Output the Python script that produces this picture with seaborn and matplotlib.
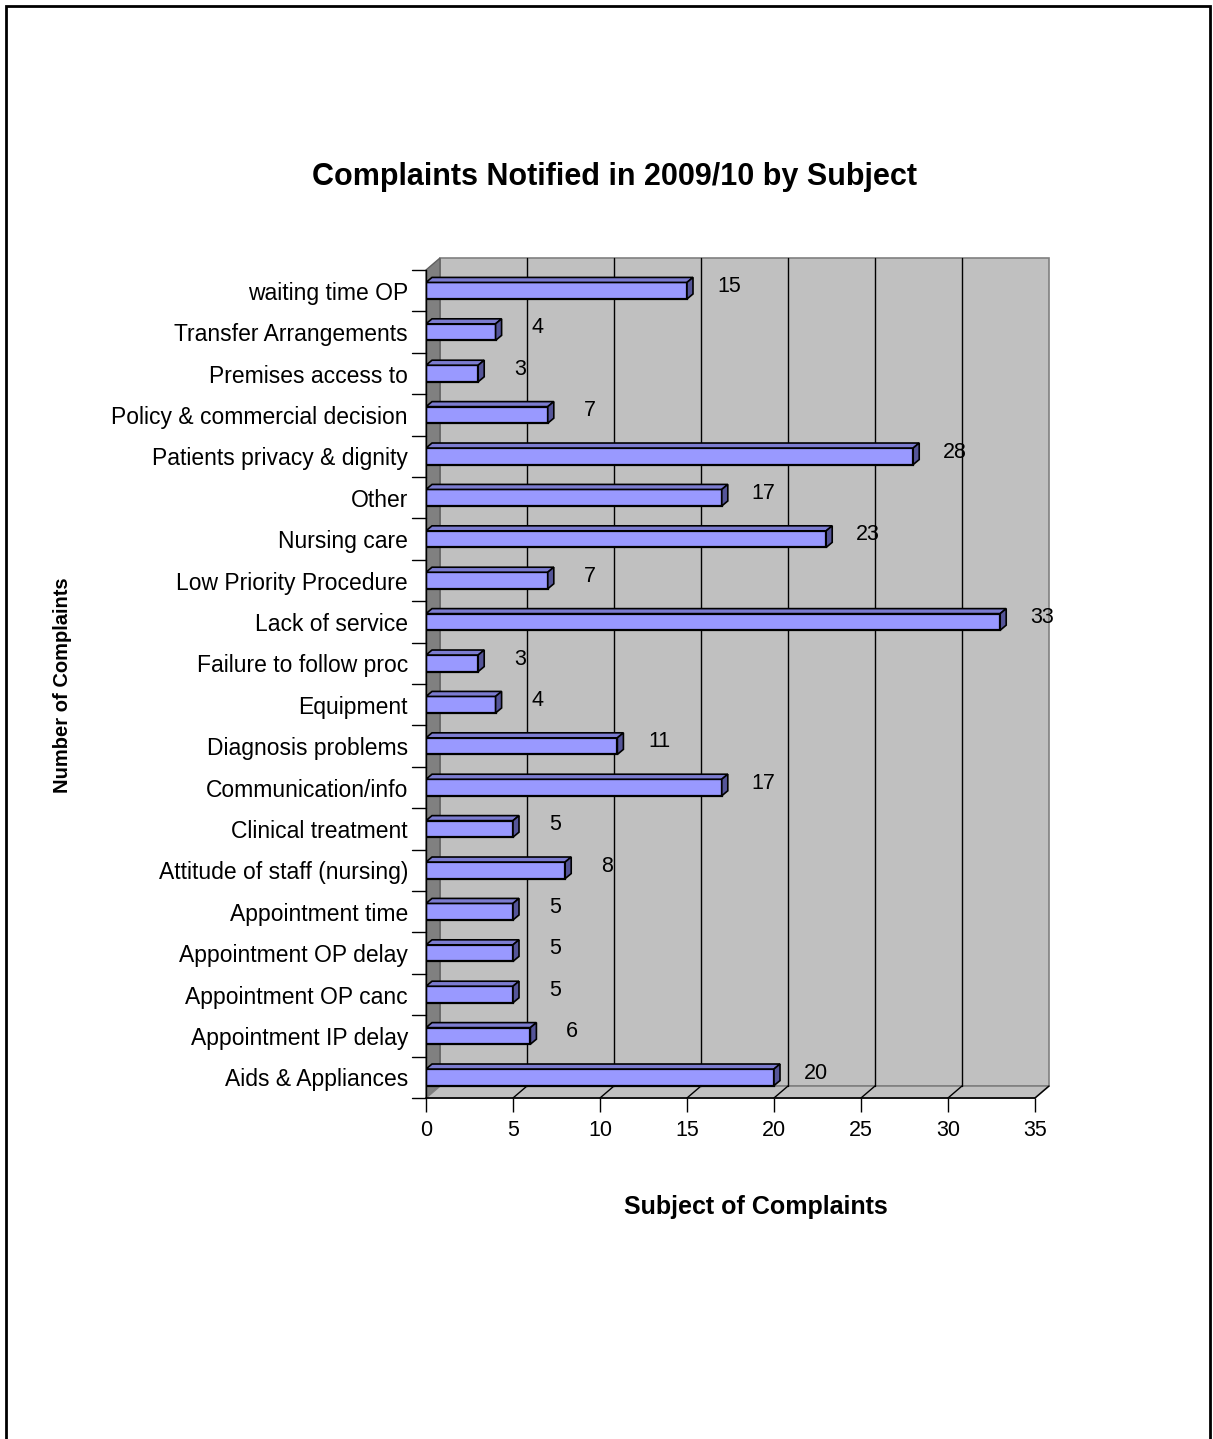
import matplotlib
matplotlib.use("Agg")
import matplotlib.pyplot as plt
import seaborn as sns
import pandas as pd
from matplotlib.patches import Polygon, Rectangle
from matplotlib.lines import Line2D

categories = ["waiting time OP", "Transfer Arrangements", "Premises access to",
              "Policy & commercial decision", "Patients privacy & dignity", "Other",
              "Nursing care", "Low Priority Procedure", "Lack of service",
              "Failure to follow proc", "Equipment", "Diagnosis problems",
              "Communication/info", "Clinical treatment", "Attitude of staff (nursing)",
              "Appointment time", "Appointment OP delay", "Appointment OP canc",
              "Appointment IP delay", "Aids & Appliances"]
values = [15, 4, 3, 7, 28, 17, 23, 7, 33, 3, 4, 11, 17, 5, 8, 5, 5, 5, 6, 20]
xticks = [0, 5, 10, 15, 20, 25, 30, 35]

title = "Complaints Notified in 2009/10 by Subject"
xlabel = "Subject of Complaints"
ylabel = "Number of Complaints"

df = pd.DataFrame({"cat": categories, "val": values})

sns.set_theme(style="white")
plt.rcParams["font.family"] = ["Liberation Sans", "DejaVu Sans"]
plt.rcParams["text.color"] = "black"
plt.rcParams["xtick.color"] = "black"
plt.rcParams["ytick.color"] = "black"

W, H = 1213, 1439
fig = plt.figure(figsize=(W / 100, H / 100), dpi=100)
L, R, T, B = 426, 1035, 270, 1098
ax = fig.add_axes([L / W, 1 - B / H, (R - L) / W, (B - T) / H])
ax.set_facecolor("white")

sns.barplot(data=df, x="val", y="cat", orient="h", color="#9999FF",
            edgecolor="black", linewidth=1.6, width=0.4, saturation=1, ax=ax, zorder=3)

ax.set_xlim(xticks[0], xticks[-1])
ax.set_ylim(len(categories) - 0.5, -0.5)

axw, axh = R - L, B - T
ddx, ddy = 14 / axw, 12 / axh  # depth offset in axes fraction

# walls
wall_kw = dict(transform=ax.transAxes, clip_on=False)
ax.add_patch(Polygon([(ddx, ddy), (1 + ddx, ddy), (1 + ddx, 1 + ddy), (ddx, 1 + ddy)],
                     closed=True, facecolor="#C0C0C0", edgecolor="#808080", lw=1.2, zorder=0.5, **wall_kw))
ax.add_patch(Polygon([(0, 0), (0, 1), (ddx, 1 + ddy), (ddx, ddy)],
                     closed=True, facecolor="#808080", edgecolor="#606060", lw=1.0, zorder=0.6, **wall_kw))
ax.add_patch(Polygon([(0, 0), (1, 0), (1 + ddx, ddy), (ddx, ddy)],
                     closed=True, facecolor="#C0C0C0", edgecolor="#808080", lw=1.2, zorder=0.6, **wall_kw))

# gridlines on back wall + floor
x0, x1 = ax.get_xlim()
for v in xticks[1:-1]:
    f = (v - x0) / (x1 - x0)
    ax.add_line(Line2D([f + ddx, f + ddx], [ddy, 1 + ddy], color="black", lw=1.0, zorder=0.8, **wall_kw))
for v in xticks[1:]:
    f = (v - x0) / (x1 - x0)
    ax.add_line(Line2D([f, f + ddx], [0, ddy], color="black", lw=1.0, zorder=0.8, **wall_kw))

# front axis lines
ax.add_line(Line2D([0, 1], [0, 0], color="black", lw=1.2, zorder=5, **wall_kw))
ax.add_line(Line2D([0, 0], [0, 1], color="black", lw=1.0, zorder=5, **wall_kw))

# 3D caps on bars
bx = 6 / axw * (x1 - x0)
by = 5 / axh * len(categories)
for p in list(ax.patches):
    if not isinstance(p, Rectangle) or p.get_height() == 0:
        continue
    xa, ya = p.get_x(), p.get_y()
    w, h = p.get_width(), p.get_height()
    ytop = min(ya, ya + h)
    ybot = max(ya, ya + h)
    xe = xa + w
    ax.add_patch(Polygon([(xa, ytop), (xe, ytop), (xe + bx, ytop - by), (xa + bx, ytop - by)],
                         closed=True, facecolor="#7C7CD0", edgecolor="black", lw=1.2, zorder=3.2))
    ax.add_patch(Polygon([(xe, ytop), (xe + bx, ytop - by), (xe + bx, ybot - by), (xe, ybot)],
                         closed=True, facecolor="#555599", edgecolor="black", lw=1.2, zorder=3.2))

# data labels
for i, v in enumerate(values):
    ax.text(v + 2.4, i - 0.1, str(v), ha="center", va="center", fontsize=15.5, color="black", zorder=6)

for s in ax.spines.values():
    s.set_visible(False)

ax.set_xticks(xticks)
ax.set_xticklabels([str(t) for t in xticks], fontsize=15.5)
ax.set_yticks(range(len(categories)))
ax.set_yticklabels(categories, fontsize=16.5)
ax.tick_params(axis="y", length=0, pad=13)
ax.tick_params(axis="x", length=10, width=1.0, color="black", direction="out", pad=6, bottom=True)

# y tick marks at category boundaries
for k in range(len(categories) + 1):
    yy = 1 - k / len(categories)
    ax.add_line(Line2D([-14 / axw, 0], [yy, yy], color="black", lw=1.0, **wall_kw))

ax.set_xlabel("")
ax.set_ylabel("")

fig.text(615 / W, 1 - 177 / H, title, ha="center", va="center", fontsize=22, fontweight="bold")
fig.text(756 / W, 1 - 1207 / H, xlabel, ha="center", va="center", fontsize=18, fontweight="bold")
fig.text(62 / W, 1 - 685 / H, ylabel, ha="center", va="center", fontsize=14.5, fontweight="bold",
         rotation=90)

fig.add_artist(Rectangle((6 / W, -0.01), (1210 - 6) / W, 1 - 6 / H + 0.01, transform=fig.transFigure,
                         fill=False, edgecolor="black", lw=2))

fig.savefig("out.png", dpi=100)
